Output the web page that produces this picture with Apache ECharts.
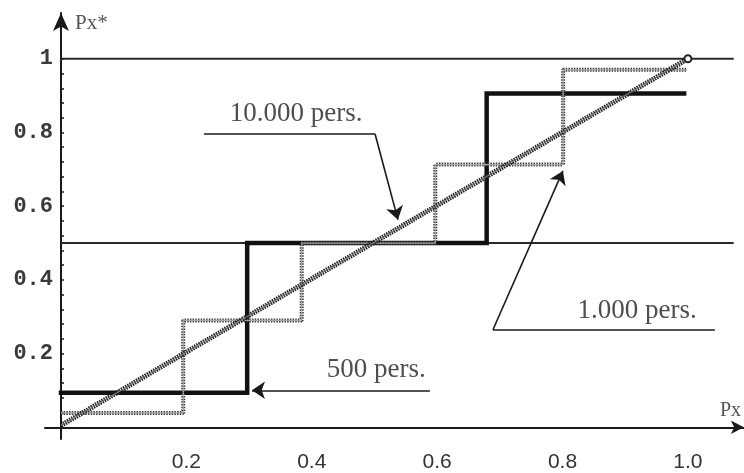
<!DOCTYPE html>
<html><head><meta charset="utf-8">
<script src="https://cdn.jsdelivr.net/npm/echarts@6/dist/echarts.min.js"></script>
<style>html,body{margin:0;padding:0;background:#fff}#chart{width:744px;height:473px}</style>
</head><body><div id="chart"></div>
<script>
// Estimated Px* against true Px for three sample sizes
const xTickLabels = [0.2, 0.4, 0.6, 0.8, 1.0];
const yTickLabels = [0.2, 0.4, 0.6, 0.8, 1.0];
const yMinorTicks = [0.04, 0.08, 0.12, 0.16, 0.2, 0.24, 0.28, 0.32, 0.36, 0.4,
  0.44, 0.48, 0.52, 0.56, 0.6, 0.64, 0.68, 0.72, 0.76, 0.8, 0.84, 0.88, 0.92, 0.96, 1.0];

// 500 persons: step edges on Px and the level of each step
const edges500 = [0, 0.297, 0.679, 0.994];
const levels500 = [0.094, 0.5, 0.906];
// 1.000 persons
const edges1000 = [0, 0.195, 0.384, 0.597, 0.801, 0.999];
const levels1000 = [0.039, 0.29, 0.5, 0.713, 0.97];
// 10.000 persons: close to the diagonal
const line10000 = [[0, 0.005], [1, 1]];
// horizontal guide levels and their extent on Px
const guideLevels = [0.5, 1];
const guideSpan = [0, 1.073];

// captions, their underlines and pointer arrows (in Px / Px* units)
const captionText = ['10.000 pers.', '1.000 pers.', '500 pers.'];
const captionAt = [[0.375, 0.851], [0.919, 0.315], [0.503, 0.155]];
const underlines = [
  [[0.228, 0.796], [0.501, 0.796]],
  [[0.689, 0.2646], [1.043, 0.2646]]
];
const pointers = [
  [[0.501, 0.796], [0.5375, 0.5635]],
  [[0.689, 0.2646], [0.8006, 0.6958]],
  [[0.5885, 0.1005], [0.3046, 0.1005]]
];

// axis extents (axes cross at the origin and overshoot it slightly)
const xRange = [-0.0255, 1.0893];
const yRange = [-0.0318, 1.1243];

function stepPoints(edges, levels) {
  const pts = [];
  levels.forEach((v, i) => { pts.push([edges[i], v]); pts.push([edges[i + 1], v]); });
  return pts;
}

const ink = '#1a1a1a';
const chart = echarts.init(document.getElementById('chart'), null, { renderer: 'canvas' });

const series = [];
guideLevels.forEach(v => series.push({
  type: 'line', data: [[guideSpan[0], v], [guideSpan[1], v]], showSymbol: false, silent: true,
  lineStyle: { color: '#2a2a2a', width: 2 }, z: 2
}));
series.push({
  type: 'line', data: stepPoints(edges500, levels500), showSymbol: false, silent: true,
  lineStyle: { color: '#111', width: 4.5, join: 'miter', cap: 'square' }, z: 3
});
// textured grey staircase: dark dotted rim with a light core
const pts1000 = stepPoints(edges1000, levels1000);
series.push({
  type: 'line', data: pts1000, showSymbol: false, silent: true,
  lineStyle: { color: '#3a3a3a', width: 4, type: [1.5, 1.2] }, z: 4
});
series.push({
  type: 'line', data: pts1000, showSymbol: false, silent: true,
  lineStyle: { color: '#a8a8a8', width: 1.2 }, z: 5
});
// 10.000 persons: darker textured diagonal
series.push({
  type: 'line', data: line10000, showSymbol: false, silent: true,
  lineStyle: { color: '#1e1e1e', width: 5, type: [1.5, 1] }, z: 6
});
series.push({
  type: 'line', data: [line10000[0], { value: line10000[1], symbol: 'circle', symbolSize: 7 }],
  showSymbol: true, symbol: 'none', silent: true,
  itemStyle: { color: '#fff', borderColor: '#222', borderWidth: 2 },
  lineStyle: { color: '#777', width: 1.3 }, z: 7
});
series.push({
  type: 'lines', coordinateSystem: 'cartesian2d', silent: true, z: 8,
  lineStyle: { color: ink, width: 1.6, opacity: 1 },
  data: underlines.map(c => ({ coords: c }))
});
series.push({
  type: 'lines', coordinateSystem: 'cartesian2d', silent: true, z: 8,
  symbol: ['none', 'arrow'], symbolSize: [9, 13],
  lineStyle: { color: ink, width: 1.6, opacity: 1 },
  itemStyle: { color: ink },
  data: pointers.map(c => ({ coords: c }))
});
series.push({
  type: 'scatter', silent: true, symbolSize: 0, z: 9,
  data: captionAt.map((p, i) => ({ value: p, name: captionText[i] })),
  label: {
    show: true, position: 'inside', formatter: p => p.name,
    fontFamily: 'Liberation Serif', fontSize: 27, color: '#222'
  }
});

chart.setOption({
  animation: false,
  backgroundColor: '#fff',
  grid: { left: 45, right: 0, top: 13, bottom: 23, containLabel: false },
  xAxis: {
    type: 'value', min: xRange[0], max: xRange[1],
    name: 'Px', nameLocation: 'end', nameGap: -24,
    nameTextStyle: { fontFamily: 'Liberation Serif', fontSize: 20, color: '#555', align: 'left', verticalAlign: 'bottom', padding: [0, 0, 7, 0] },
    axisLine: { onZero: true, lineStyle: { color: ink, width: 2 }, symbol: ['none', 'arrow'], symbolSize: [10, 13] },
    axisTick: { show: false },
    splitLine: { show: false },
    axisLabel: {
      customValues: xTickLabels, formatter: v => v.toFixed(1), margin: 13,
      fontFamily: 'Liberation Sans', fontSize: 21, color: '#333'
    }
  },
  yAxis: {
    type: 'value', min: yRange[0], max: yRange[1],
    name: 'Px*', nameLocation: 'end', nameGap: -10,
    nameTextStyle: { fontFamily: 'Liberation Serif', fontSize: 21, color: '#555', align: 'left', verticalAlign: 'middle', padding: [0, 0, 0, 14] },
    axisLine: { onZero: true, lineStyle: { color: ink, width: 2 }, symbol: ['none', 'arrow'], symbolSize: [12, 18] },
    axisTick: { show: true, customValues: yMinorTicks, inside: true, length: 3, lineStyle: { color: ink, width: 1.5 } },
    splitLine: { show: false },
    axisLabel: {
      customValues: yTickLabels, formatter: v => (v === 1 ? '1' : String(v)), margin: -8,
      fontFamily: 'Liberation Mono', fontWeight: 'bold', fontSize: 22, color: '#3a3a3a'
    }
  },
  series: series
});
</script>
</body></html>
